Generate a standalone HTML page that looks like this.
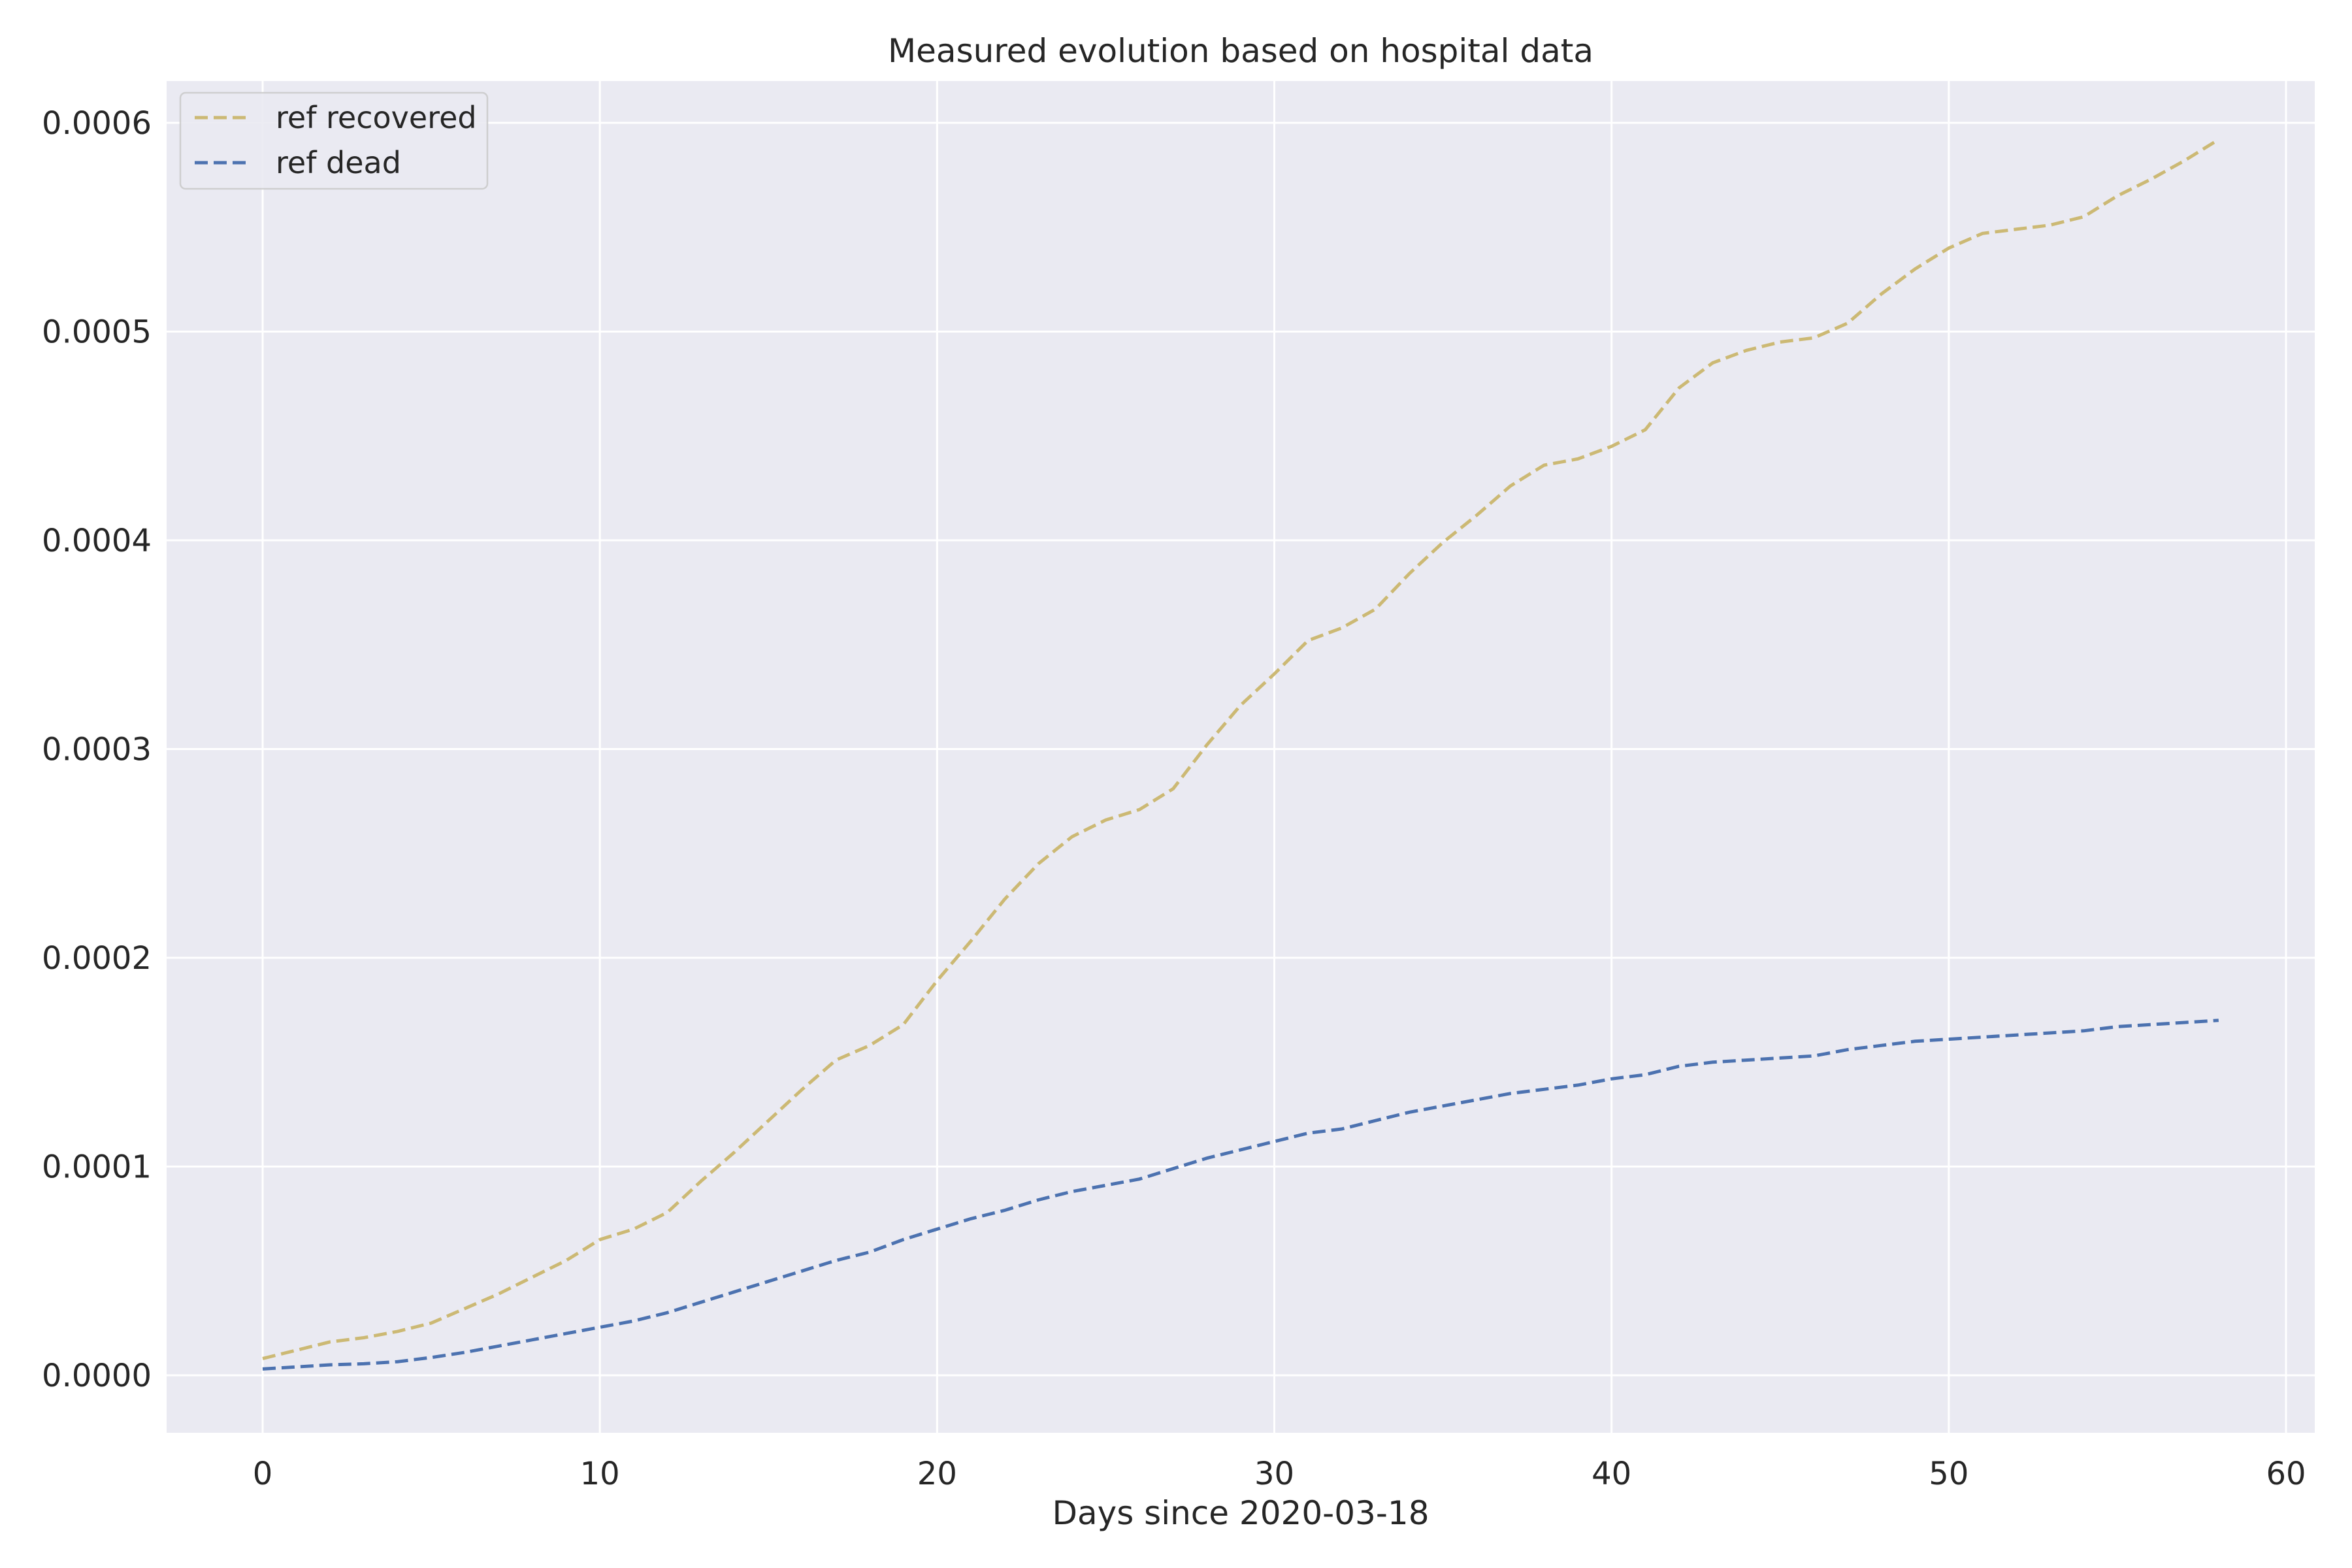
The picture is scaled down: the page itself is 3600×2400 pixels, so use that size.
<!DOCTYPE html>
<html><head><meta charset="utf-8"><style>
html,body{margin:0;padding:0;background:#fff;}
svg{display:block;font-family:"DejaVu Sans","Liberation Sans",sans-serif;}
</style></head><body>
<svg id="chart" width="3600" height="2400" viewBox="0 0 3600 2400" xmlns="http://www.w3.org/2000/svg">
<rect x="0" y="0" width="3600" height="2400" fill="#ffffff"/>
<rect x="255" y="124" width="3288" height="2069" fill="#EAEAF2"/>
<g id="grid"></g>
<g id="lines"></g>
<g id="ticks"></g>
<text x="1899" y="95" font-size="50" text-anchor="middle" fill="#262626">Measured evolution based on hospital data</text>
<text x="1899" y="2333" font-size="50" text-anchor="middle" fill="#262626">Days since 2020-03-18</text>
<g>
<rect x="276" y="142" width="470" height="147" rx="8" fill="#EAEAF2" stroke="#cccccc" stroke-width="2.5" opacity="0.9"/>
<line x1="298" y1="180" x2="380" y2="180" stroke="#CCB974" stroke-width="5" stroke-dasharray="20,9"/>
<text x="422" y="196" font-size="46" fill="#262626">ref recovered</text>
<line x1="298" y1="249" x2="380" y2="249" stroke="#4C72B0" stroke-width="5" stroke-dasharray="20,9"/>
<text x="422" y="265" font-size="46" fill="#262626">ref dead</text>
</g>
</svg>
<script>
const xTicks = [0,10,20,30,40,50,60];
const yTicks = [0,0.0001,0.0002,0.0003,0.0004,0.0005,0.0006];
const yTickLabels = ["0.0000","0.0001","0.0002","0.0003","0.0004","0.0005","0.0006"];
const recovered = [0.08,0.12,0.16,0.18,0.21,0.25,0.32,0.39,0.47,0.55,0.65,0.70,0.78,0.93,1.07,1.22,1.37,1.51,1.58,1.68,1.89,2.08,2.28,2.45,2.58,2.66,2.71,2.81,3.02,3.21,3.36,3.52,3.58,3.67,3.84,3.99,4.12,4.26,4.36,4.39,4.45,4.53,4.73,4.85,4.91,4.95,4.97,5.04,5.18,5.30,5.40,5.47,5.49,5.51,5.55,5.65,5.73,5.82,5.92];
const dead = [0.03,0.04,0.05,0.055,0.065,0.085,0.11,0.14,0.17,0.2,0.23,0.26,0.3,0.35,0.4,0.45,0.5,0.55,0.59,0.65,0.7,0.75,0.79,0.84,0.88,0.91,0.94,0.99,1.04,1.08,1.12,1.16,1.18,1.22,1.26,1.29,1.32,1.35,1.37,1.39,1.42,1.44,1.48,1.5,1.51,1.52,1.53,1.56,1.58,1.6,1.61,1.62,1.63,1.64,1.65,1.67,1.68,1.69,1.7];
const SCALE = 1e-4;

const NS = "http://www.w3.org/2000/svg";
function xs(d){ return 402 + d*(3499-402)/60; }
function ys(v){ return 2105 - v*(2105-188)/0.0006; }
function mk(tag, attrs, parent){ const e=document.createElementNS(NS,tag); for(const k in attrs) e.setAttribute(k,attrs[k]); parent.appendChild(e); return e; }
const grid=document.getElementById('grid'), ticks=document.getElementById('ticks'), lines=document.getElementById('lines');
xTicks.forEach(t=>{
  const l=mk('line',{x1:xs(t),x2:xs(t),y1:124,y2:2193,stroke:'#fff','stroke-width':3},grid);
  
  
  const tx=mk('text',{x:xs(t),y:2272,'font-size':48,'text-anchor':'middle',fill:'#262626'},ticks);
  tx.textContent=t;
  
  
});
yTicks.forEach((t,i)=>{
  const l=mk('line',{x1:255,x2:3543,y1:ys(t),y2:ys(t),stroke:'#fff','stroke-width':3},grid);
  
  
  const tx=mk('text',{x:232,y:ys(t)+17,'font-size':48,'text-anchor':'end',fill:'#262626'},ticks);
  tx.textContent=yTickLabels[i];
  
  
});
function path(arr){ return arr.map((v,i)=>(i?'L':'M')+xs(i).toFixed(1)+','+ys(v*SCALE).toFixed(1)).join(' '); }
const p1=mk('path',{d:path(recovered),fill:'none',stroke:'#CCB974','stroke-width':5,'stroke-dasharray':'20,9'},lines);


const p2=mk('path',{d:path(dead),fill:'none',stroke:'#4C72B0','stroke-width':5,'stroke-dasharray':'20,9'},lines);


</script>
</body></html>
